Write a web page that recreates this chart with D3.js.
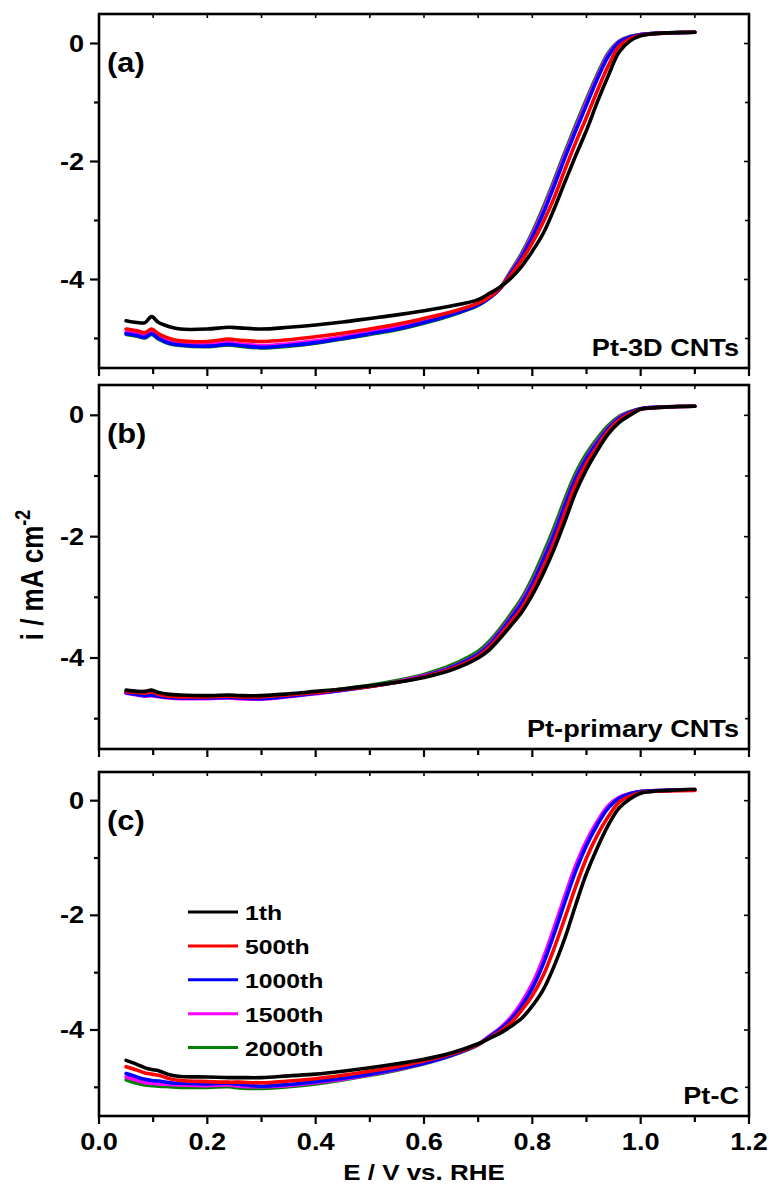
<!DOCTYPE html>
<html>
<head>
<meta charset="utf-8">
<script src="https://cdn.jsdelivr.net/npm/d3@7"></script>
<style>
  html, body { margin: 0; padding: 0; background: #fff; }
  svg { display: block; }
  text { font-family: "Liberation Sans", Arial, sans-serif; font-weight: bold; fill: #000; }
</style>
</head>
<body>
<svg id="chart" width="769" height="1188"></svg>
<script>
// Potential grid (V vs. RHE) shared by all polarization curves
const potential = [0.05,0.07,0.085,0.097,0.11,0.13,0.15,0.2,0.24,0.26,0.3,0.35,0.4,0.45,0.5,0.55,0.6,0.65,0.7,0.72,0.74,0.76,0.78,0.8,0.82,0.84,0.86,0.88,0.9,0.92,0.94,0.96,0.98,1.0,1.02,1.05,1.1];

const cycleLabels = ["1th","500th","1000th","1500th","2000th"];

// (a) Pt-3D CNTs, current density in mA cm-2
const pt3d_1th    = [-4.70,-4.73,-4.73,-4.63,-4.73,-4.80,-4.84,-4.84,-4.81,-4.82,-4.84,-4.81,-4.77,-4.72,-4.66,-4.60,-4.53,-4.45,-4.34,-4.24,-4.13,-3.98,-3.78,-3.52,-3.22,-2.81,-2.35,-1.90,-1.47,-0.99,-0.55,-0.15,0.04,0.13,0.16,0.18,0.19];
const pt3d_500th  = [-4.84,-4.87,-4.90,-4.84,-4.92,-5.00,-5.04,-5.05,-5.01,-5.03,-5.05,-5.02,-4.97,-4.91,-4.84,-4.76,-4.66,-4.55,-4.40,-4.30,-4.15,-3.93,-3.68,-3.38,-3.03,-2.62,-2.14,-1.68,-1.25,-0.80,-0.38,-0.05,0.08,0.14,0.16,0.18,0.19];
const pt3d_1000th = [-4.92,-4.95,-4.98,-4.92,-5.00,-5.08,-5.11,-5.13,-5.10,-5.12,-5.15,-5.12,-5.07,-5.00,-4.92,-4.84,-4.73,-4.60,-4.43,-4.32,-4.16,-3.90,-3.62,-3.28,-2.88,-2.42,-1.94,-1.48,-1.04,-0.60,-0.22,0.02,0.11,0.15,0.17,0.18,0.19];
const pt3d_1500th = [-4.89,-4.92,-4.95,-4.89,-4.97,-5.05,-5.08,-5.10,-5.07,-5.09,-5.12,-5.09,-5.04,-4.97,-4.89,-4.81,-4.71,-4.58,-4.42,-4.31,-4.15,-3.88,-3.59,-3.24,-2.83,-2.37,-1.89,-1.43,-0.99,-0.56,-0.19,0.03,0.11,0.15,0.17,0.18,0.19];
const pt3d_2000th = [-4.93,-4.96,-4.99,-4.93,-5.01,-5.09,-5.12,-5.14,-5.11,-5.13,-5.16,-5.13,-5.08,-5.01,-4.93,-4.85,-4.74,-4.61,-4.44,-4.32,-4.15,-3.86,-3.56,-3.20,-2.78,-2.32,-1.84,-1.38,-0.94,-0.52,-0.16,0.04,0.12,0.15,0.17,0.18,0.19];

// (b) Pt-primary CNTs
const ptPrim_1th    = [-4.53,-4.55,-4.55,-4.53,-4.57,-4.60,-4.61,-4.62,-4.61,-4.62,-4.62,-4.59,-4.55,-4.51,-4.46,-4.40,-4.32,-4.20,-4.00,-3.87,-3.68,-3.47,-3.25,-2.96,-2.61,-2.21,-1.75,-1.27,-0.89,-0.58,-0.31,-0.12,0.00,0.10,0.12,0.14,0.15];
const ptPrim_500th  = [-4.55,-4.57,-4.58,-4.56,-4.60,-4.63,-4.64,-4.64,-4.63,-4.64,-4.64,-4.61,-4.57,-4.52,-4.47,-4.40,-4.31,-4.18,-3.97,-3.83,-3.63,-3.41,-3.18,-2.87,-2.50,-2.09,-1.61,-1.14,-0.79,-0.51,-0.26,-0.08,0.03,0.10,0.12,0.14,0.15];
const ptPrim_1000th = [-4.57,-4.60,-4.62,-4.61,-4.63,-4.65,-4.66,-4.66,-4.65,-4.66,-4.67,-4.63,-4.58,-4.53,-4.47,-4.40,-4.30,-4.16,-3.94,-3.79,-3.58,-3.35,-3.10,-2.78,-2.39,-1.97,-1.49,-1.04,-0.71,-0.45,-0.22,-0.05,0.05,0.11,0.13,0.14,0.15];
const ptPrim_1500th = [-4.58,-4.61,-4.63,-4.62,-4.64,-4.66,-4.67,-4.67,-4.66,-4.67,-4.68,-4.64,-4.59,-4.53,-4.47,-4.39,-4.29,-4.15,-3.93,-3.77,-3.56,-3.33,-3.07,-2.75,-2.36,-1.94,-1.46,-1.02,-0.69,-0.43,-0.21,-0.04,0.05,0.11,0.13,0.14,0.15];
const ptPrim_2000th = [-4.56,-4.59,-4.61,-4.60,-4.62,-4.64,-4.65,-4.65,-4.64,-4.65,-4.66,-4.62,-4.56,-4.51,-4.45,-4.37,-4.27,-4.12,-3.89,-3.73,-3.52,-3.28,-3.02,-2.68,-2.28,-1.85,-1.38,-0.95,-0.63,-0.38,-0.17,-0.02,0.06,0.11,0.13,0.14,0.15];

// (c) Pt-C
const ptC_1th    = [-4.53,-4.60,-4.66,-4.69,-4.71,-4.78,-4.81,-4.82,-4.83,-4.83,-4.83,-4.80,-4.77,-4.72,-4.66,-4.59,-4.51,-4.40,-4.24,-4.15,-4.06,-3.94,-3.80,-3.58,-3.30,-2.89,-2.40,-1.82,-1.27,-0.82,-0.43,-0.13,0.03,0.13,0.16,0.18,0.20];
const ptC_500th  = [-4.64,-4.70,-4.75,-4.77,-4.79,-4.85,-4.88,-4.90,-4.91,-4.91,-4.92,-4.89,-4.85,-4.79,-4.72,-4.64,-4.54,-4.42,-4.25,-4.14,-4.03,-3.88,-3.66,-3.40,-3.05,-2.58,-2.05,-1.50,-1.00,-0.60,-0.28,-0.03,0.08,0.14,0.16,0.17,0.18];
const ptC_1000th = [-4.76,-4.82,-4.86,-4.88,-4.89,-4.92,-4.93,-4.94,-4.93,-4.95,-4.98,-4.95,-4.90,-4.84,-4.77,-4.68,-4.58,-4.44,-4.25,-4.12,-3.99,-3.82,-3.58,-3.27,-2.85,-2.33,-1.77,-1.23,-0.78,-0.42,-0.13,0.04,0.12,0.16,0.17,0.18,0.19];
const ptC_1500th = [-4.82,-4.88,-4.92,-4.93,-4.94,-4.95,-4.96,-4.97,-4.96,-4.98,-4.99,-4.97,-4.92,-4.86,-4.78,-4.69,-4.58,-4.44,-4.25,-4.11,-3.97,-3.78,-3.52,-3.19,-2.75,-2.22,-1.66,-1.13,-0.70,-0.36,-0.09,0.06,0.12,0.16,0.17,0.18,0.19];
const ptC_2000th = [-4.87,-4.93,-4.96,-4.97,-4.98,-4.99,-5.00,-5.00,-4.99,-5.01,-5.02,-4.99,-4.94,-4.87,-4.79,-4.70,-4.59,-4.45,-4.26,-4.12,-3.98,-3.80,-3.55,-3.23,-2.80,-2.28,-1.72,-1.18,-0.74,-0.39,-0.11,0.05,0.12,0.16,0.17,0.18,0.19];

const panelTags   = ["(a)","(b)","(c)"];
const sampleNames = ["Pt-3D CNTs","Pt-primary CNTs","Pt-C"];
const xTickLabels = ["0.0","0.2","0.4","0.6","0.8","1.0","1.2"];
const yTickLabels = ["0","-2","-4"];

const panelSeries = [
  [pt3d_1th, pt3d_500th, pt3d_1000th, pt3d_1500th, pt3d_2000th],
  [ptPrim_1th, ptPrim_500th, ptPrim_1000th, ptPrim_1500th, ptPrim_2000th],
  [ptC_1th, ptC_500th, ptC_1000th, ptC_1500th, ptC_2000th]
];

const lineColors = ["#000000","#ff0000","#0000ff","#ff00ff","#008000"];

const svg = d3.select("#chart");
const left = 99, right = 749;
const boxes = [{top: 14, bottom: 368}, {top: 385, bottom: 749}, {top: 772, bottom: 1116}];
const SX = 1.18; // horizontal text stretch

function label(g, x, y, str, size, anchor, sx) {
  return g.append("text")
    .attr("transform", `translate(${x},${y}) scale(${sx},1)`)
    .attr("text-anchor", anchor)
    .style("font-size", size + "px")
    .text(str);
}

const x = d3.scaleLinear().domain([0, 1.2]).range([left, right]);
const xMajor = d3.range(0, 1.2001, 0.2);
const xMinor = d3.range(0.1, 1.2, 0.2);

boxes.forEach((box, p) => {
  const g = svg.append("g");
  const y = d3.scaleLinear().domain([-5.5, 0.5]).range([box.bottom, box.top]);

  // curves: later cycles underneath, first cycle on top
  const line = d3.line()
    .x((d, i) => x(potential[i]))
    .y(d => y(d))
    .curve(d3.curveCatmullRom.alpha(0.5));
  const series = panelSeries[p];
  for (let s = series.length - 1; s >= 0; s--) {
    g.append("path")
      .attr("d", line(series[s]))
      .attr("fill", "none")
      .attr("stroke", lineColors[s])
      .attr("stroke-width", 3.6)
      .attr("stroke-linejoin", "round")
      .attr("stroke-linecap", "round");
  }

  // y ticks: outward on left, inward on right
  const yMajor = [0, -2, -4], yMinor = [-1, -3, -5];
  yMajor.forEach((v, i) => {
    g.append("line").attr("x1", left - 9).attr("x2", left).attr("y1", y(v)).attr("y2", y(v))
      .attr("stroke", "#000").attr("stroke-width", 2.2);
    g.append("line").attr("x1", right - 5).attr("x2", right).attr("y1", y(v)).attr("y2", y(v))
      .attr("stroke", "#000").attr("stroke-width", 1.6);
    label(g, left - 15, y(v) + 8, yTickLabels[i], 23, "end", SX);
  });
  yMinor.forEach(v => {
    g.append("line").attr("x1", left - 5).attr("x2", left).attr("y1", y(v)).attr("y2", y(v))
      .attr("stroke", "#000").attr("stroke-width", 2.2);
    g.append("line").attr("x1", right - 4).attr("x2", right).attr("y1", y(v)).attr("y2", y(v))
      .attr("stroke", "#000").attr("stroke-width", 1.6);
  });

  // x ticks: outward at bottom, inward at top
  xMajor.forEach(v => {
    g.append("line").attr("x1", x(v)).attr("x2", x(v)).attr("y1", box.bottom).attr("y2", box.bottom + 8)
      .attr("stroke", "#000").attr("stroke-width", 2.2);
    g.append("line").attr("x1", x(v)).attr("x2", x(v)).attr("y1", box.top).attr("y2", box.top + 4)
      .attr("stroke", "#000").attr("stroke-width", 1.6);
  });
  xMinor.forEach(v => {
    g.append("line").attr("x1", x(v)).attr("x2", x(v)).attr("y1", box.bottom).attr("y2", box.bottom + 6)
      .attr("stroke", "#000").attr("stroke-width", 2.2);
    g.append("line").attr("x1", x(v)).attr("x2", x(v)).attr("y1", box.top).attr("y2", box.top + 4)
      .attr("stroke", "#000").attr("stroke-width", 1.6);
  });

  // frame
  g.append("rect")
    .attr("x", left).attr("y", box.top)
    .attr("width", right - left).attr("height", box.bottom - box.top)
    .attr("fill", "none").attr("stroke", "#000").attr("stroke-width", 2.6);

  // panel tag and sample name
  label(g, 107, box.top + 58, panelTags[p], 28, "start", 1.1);
  label(g, 739, box.bottom - 12, sampleNames[p], 23, "end", SX);

  if (p === 2) {
    xMajor.forEach((v, i) => {
      label(g, x(v), box.bottom + 34, xTickLabels[i], 23, "middle", SX);
    });
  }
});

// legend in panel (c)
const legend = svg.append("g");
cycleLabels.forEach((name, i) => {
  const ly = 912 + i * 33.9;
  legend.append("line").attr("x1", 188).attr("x2", 238).attr("y1", ly).attr("y2", ly)
    .attr("stroke", lineColors[i]).attr("stroke-width", 3);
  label(legend, 245, ly + 8, name, 21, "start", SX);
});

// axis titles
label(svg, 424, 1180, "E / V vs. RHE", 22, "middle", SX);
const yt = svg.append("text")
  .attr("transform", `translate(43,575) scale(${SX},1) rotate(-90)`)
  .attr("text-anchor", "middle")
  .style("font-size", "26px");
yt.append("tspan").text("i / mA cm");
yt.append("tspan").attr("dy", -11).style("font-size", "18px").text("-2");
</script>
</body>
</html>
